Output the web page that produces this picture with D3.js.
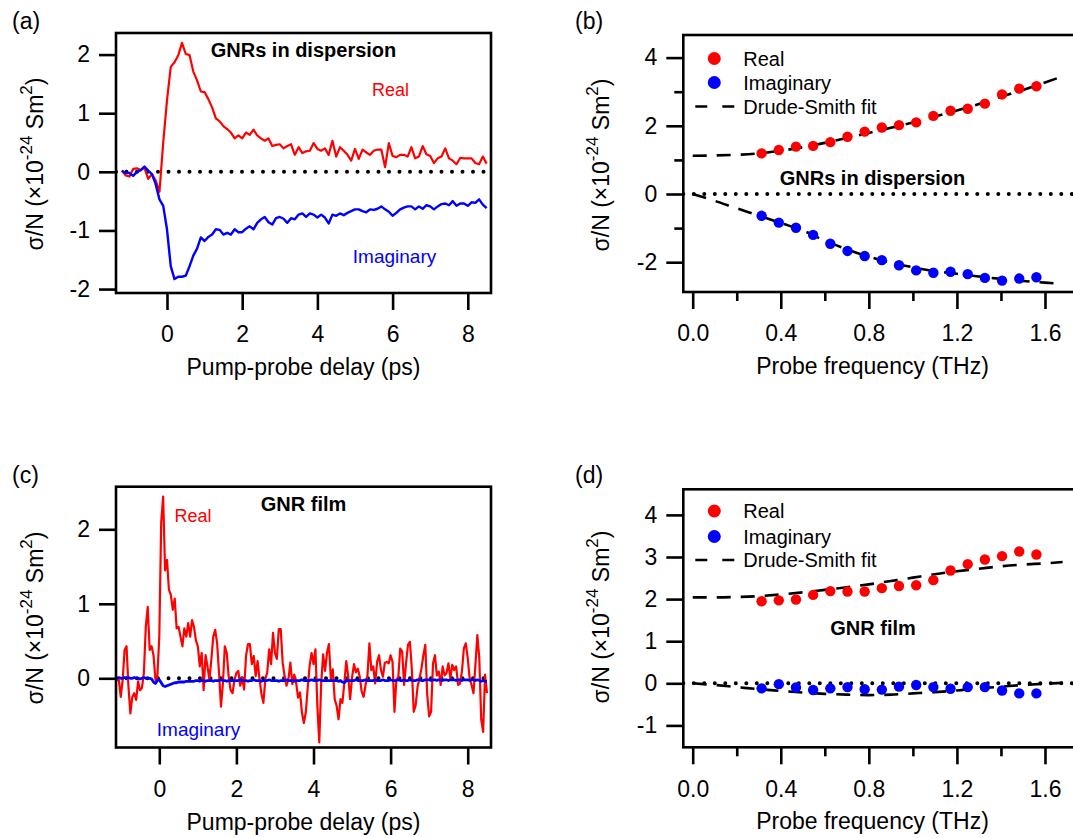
<!DOCTYPE html>
<html><head><meta charset="utf-8">
<script src="https://cdn.jsdelivr.net/npm/d3@7"></script>
<style>
body{margin:0;background:#fff}
svg{display:block}
text{font-family:"Liberation Sans",Arial,Helvetica,sans-serif;fill:#000}
</style>
</head><body>
<svg id="chart" width="1073" height="838"></svg>
<script>
// ---------- DATA ----------
// Panel (a): GNRs in dispersion, pump-probe delay (ps)
const delayA = [-1.2,-1.1,-1.0,-0.9,-0.8,-0.7,-0.6,-0.5,-0.4,-0.3,-0.2,-0.1,
 0.0,0.1,0.2,0.3,0.4,0.5,0.6,0.7,0.8,0.9,1.0,1.1,1.2,1.3,1.4,1.5,1.6,1.7,1.8,1.9,
 2.0,2.1,2.2,2.3,2.4,2.5,2.6,2.7,2.8,2.9,3.0,3.1,3.2,3.3,3.4,3.5,3.6,3.7,3.8,3.9,
 4.0,4.1,4.2,4.3,4.4,4.5,4.6,4.7,4.8,4.9,5.0,5.1,5.2,5.3,5.4,5.5,5.6,5.7,5.8,5.9,
 6.0,6.1,6.2,6.3,6.4,6.5,6.6,6.7,6.8,6.9,7.0,7.1,7.2,7.3,7.4,7.5,7.6,7.7,7.8,7.9,
 8.0,8.1,8.2,8.3,8.4,8.5];
const realA = [0.02,-0.06,-0.08,0.05,0.06,0.03,0.07,-0.12,-0.04,-0.15,-0.34,0.50,
 1.22,1.79,1.87,1.99,2.20,2.01,1.99,1.71,1.56,1.37,1.36,1.24,1.10,0.91,0.86,0.78,0.73,0.67,0.57,0.62,
 0.57,0.67,0.63,0.72,0.62,0.57,0.53,0.57,0.44,0.46,0.47,0.40,0.44,0.47,0.29,0.42,0.32,0.35,0.36,0.49,
 0.39,0.36,0.40,0.29,0.53,0.26,0.42,0.36,0.29,0.19,0.39,0.22,0.38,0.33,0.29,0.36,0.38,0.38,0.08,0.49,
 0.27,0.25,0.29,0.29,0.26,0.42,0.23,0.26,0.44,0.30,0.27,0.15,0.23,0.26,0.40,0.23,0.19,0.13,0.24,0.23,
 0.23,0.23,0.15,0.13,0.26,0.14];
const imagA = [0.02,-0.02,-0.02,-0.07,0.00,0.03,0.09,0.02,-0.04,-0.21,-0.47,-0.58,
 -0.98,-1.61,-1.83,-1.79,-1.79,-1.77,-1.61,-1.43,-1.31,-1.12,-1.18,-1.11,-1.07,-0.98,-0.99,-1.07,-1.04,-1.07,-0.98,-1.03,
 -1.03,-0.97,-0.93,-0.98,-0.87,-0.81,-0.77,-0.86,-0.90,-0.79,-0.77,-0.80,-0.87,-0.79,-0.81,-0.73,-0.71,-0.77,-0.71,-0.73,
 -0.78,-0.73,-0.78,-0.88,-0.73,-0.75,-0.71,-0.74,-0.70,-0.67,-0.64,-0.64,-0.67,-0.69,-0.64,-0.65,-0.63,-0.59,-0.64,-0.68,
 -0.75,-0.70,-0.64,-0.61,-0.59,-0.59,-0.64,-0.59,-0.63,-0.57,-0.59,-0.64,-0.59,-0.55,-0.54,-0.57,-0.50,-0.58,-0.54,-0.54,
 -0.58,-0.52,-0.53,-0.47,-0.56,-0.62];

// Panel (c): GNR film, pump-probe delay (ps)
const delayC = [-1.10,-1.05,-1.00,-0.95,-0.90,-0.85,-0.80,-0.75,-0.70,-0.65,-0.60,-0.55,-0.50,-0.45,-0.40,-0.35,-0.30,-0.25,-0.20,-0.15,-0.10,-0.05,
 0.00,0.05,0.10,0.15,0.20,0.25,0.30,0.35,0.40,0.45,0.50,0.55,0.60,0.65,0.70,0.75,0.80,0.85,0.90,0.95,
 1.00,1.05,1.10,1.15,1.20,1.25,1.30,1.35,1.40,1.45,1.50,1.55,1.60,1.65,1.70,1.75,1.80,1.85,1.90,1.95,
 2.00,2.05,2.10,2.15,2.20,2.25,2.30,2.35,2.40,2.45,2.50,2.55,2.60,2.65,2.70,2.75,2.80,2.85,2.90,2.95,
 3.00,3.05,3.10,3.15,3.20,3.25,3.30,3.35,3.40,3.45,3.50,3.55,3.60,3.65,3.70,3.75,3.80,3.85,3.90,3.95,
 4.00,4.05,4.10,4.15,4.20,4.25,4.30,4.35,4.40,4.45,4.50,4.55,4.60,4.65,4.70,4.75,4.80,4.85,4.90,4.95,
 5.00,5.05,5.10,5.15,5.20,5.25,5.30,5.35,5.40,5.45,5.50,5.55,5.60,5.65,5.70,5.75,5.80,5.85,5.90,5.95,
 6.00,6.05,6.10,6.15,6.20,6.25,6.30,6.35,6.40,6.45,6.50,6.55,6.60,6.65,6.70,6.75,6.80,6.85,6.90,6.95,
 7.00,7.05,7.10,7.15,7.20,7.25,7.30,7.35,7.40,7.45,7.50,7.55,7.60,7.65,7.70,7.75,7.80,7.85,7.90,7.95,
 8.00,8.05,8.10,8.15,8.20,8.25,8.30,8.35,8.40,8.45,8.50];
const realC = [-0.02,-0.02,-0.25,-0.02,0.38,0.43,-0.11,-0.47,-0.25,-0.20,-0.29,-0.04,-0.16,-0.13,0.07,0.69,0.96,0.38,0.43,0.31,-0.02,0.02,
 0.56,2.10,2.44,1.45,1.59,1.19,1.12,0.92,1.07,0.67,0.69,0.56,0.43,0.67,0.56,0.74,0.56,0.78,0.69,0.51,
 0.43,0.16,0.34,-0.16,0.31,0.16,-0.02,0.25,0.56,0.65,0.47,0.07,-0.38,-0.07,0.43,0.34,0.02,-0.16,-0.20,-0.02,
 0.07,0.10,-0.10,0.01,-0.15,0.30,0.46,0.46,0.19,0.30,0.03,0.23,-0.01,-0.21,-0.33,-0.01,0.08,0.39,0.19,0.61,
 0.34,0.26,0.66,0.66,0.21,0.03,-0.10,-0.01,0.21,-0.08,0.05,-0.06,-0.26,-0.19,-0.46,-0.60,-0.46,-0.13,0.17,0.34,
 0.19,0.39,-0.37,-0.86,-0.06,0.32,0.10,0.34,0.46,-0.01,0.12,-0.28,-0.37,-0.55,-0.28,-0.33,-0.06,0.23,0.03,-0.28,
 0.01,0.19,0.08,0.13,0.02,-0.18,-0.25,-0.09,0.04,0.47,0.11,0.16,-0.07,0.22,0.31,0.11,0.02,0.21,0.22,0.20,
 0.31,0.22,-0.45,-0.02,0.02,0.40,0.36,-0.09,0.20,0.45,0.49,0.13,-0.45,-0.36,-0.11,0.00,0.13,0.31,0.45,-0.22,
 -0.51,-0.45,0.20,0.31,0.04,0.09,-0.09,0.16,0.04,0.07,0.20,0.00,0.18,0.11,0.16,-0.09,-0.07,0.09,0.40,0.47,
 0.27,0.00,-0.09,-0.20,0.18,0.58,0.27,-0.55,-0.72,0.05,-0.20];
const imagC = [0.00,0.01,0.00,0.00,0.01,0.00,0.01,0.00,0.00,0.01,0.00,0.00,-0.01,0.00,0.01,0.00,0.00,0.00,-0.01,-0.05,-0.07,-0.03,
 -0.02,-0.06,-0.10,-0.11,-0.10,-0.09,-0.08,-0.07,-0.06,-0.06,-0.05,-0.05,-0.05,-0.05,-0.04,-0.04,-0.04,-0.04,-0.04,-0.03,
 -0.03,-0.04,-0.03,-0.03,-0.04,-0.03,-0.03,-0.03,-0.04,-0.03,-0.03,-0.03,-0.02,-0.03,-0.03,-0.04,-0.03,-0.03,-0.03,-0.03,
 -0.03,-0.03,-0.02,-0.03,-0.03,-0.03,-0.04,-0.03,-0.03,-0.02,-0.03,-0.03,-0.03,-0.04,-0.03,-0.03,-0.03,-0.02,-0.03,-0.03,
 -0.03,-0.03,-0.04,-0.03,-0.03,-0.03,-0.02,-0.03,-0.03,-0.03,-0.04,-0.03,-0.03,-0.03,-0.02,-0.03,-0.03,-0.03,-0.03,-0.02,
 -0.03,-0.03,-0.03,-0.02,-0.03,-0.03,-0.03,-0.03,-0.03,-0.03,-0.03,-0.03,-0.03,-0.04,-0.03,-0.05,-0.06,-0.03,-0.03,-0.03,
 -0.03,-0.03,-0.02,-0.03,-0.03,-0.03,-0.03,-0.02,-0.03,-0.03,-0.03,-0.03,-0.02,-0.03,-0.03,-0.03,-0.02,-0.03,-0.03,-0.03,
 -0.02,-0.03,-0.03,-0.03,-0.02,-0.03,-0.03,-0.02,-0.03,-0.03,-0.02,-0.03,-0.03,-0.03,-0.02,-0.02,-0.03,-0.03,-0.02,-0.02,
 -0.02,-0.03,-0.02,-0.02,-0.03,-0.02,-0.02,-0.03,-0.02,-0.02,-0.03,-0.02,-0.02,-0.02,-0.03,-0.02,-0.02,-0.03,-0.02,-0.02,
 -0.02,-0.03,-0.02,-0.02,-0.03,-0.02,-0.03,-0.04,-0.03,-0.04,-0.04];

// Panels (b) and (d): probe frequency (THz)
const freq = [0.313,0.391,0.469,0.547,0.625,0.703,0.781,0.859,0.937,1.015,1.093,1.171,1.249,1.327,1.405,1.483,1.561];
const realB = [1.19,1.29,1.39,1.41,1.52,1.68,1.83,1.95,2.02,2.10,2.29,2.44,2.50,2.65,2.92,3.09,3.16];
const imagB = [-0.64,-0.84,-0.99,-1.20,-1.46,-1.67,-1.82,-1.94,-2.09,-2.24,-2.31,-2.28,-2.35,-2.46,-2.54,-2.48,-2.44];
const realD = [1.95,1.97,1.99,2.10,2.19,2.18,2.18,2.26,2.31,2.33,2.45,2.68,2.83,2.94,3.02,3.13,3.06];
const imagD = [-0.12,-0.02,-0.10,-0.16,-0.12,-0.09,-0.14,-0.15,-0.08,-0.04,-0.09,-0.13,-0.09,-0.09,-0.17,-0.24,-0.24];
// Drude-Smith fits
const fitFreq = [0,0.1,0.2,0.3,0.4,0.5,0.6,0.7,0.8,0.9,1.0,1.1,1.2,1.3,1.4,1.5,1.6,1.68];
const fitRealB = [1.12,1.13,1.15,1.19,1.27,1.37,1.50,1.64,1.79,1.94,2.10,2.27,2.45,2.64,2.85,3.05,3.27,3.45];
const fitImagB = [0,-0.20,-0.42,-0.63,-0.85,-1.07,-1.37,-1.62,-1.84,-2.01,-2.15,-2.26,-2.34,-2.42,-2.49,-2.55,-2.60,-2.63];
const fitRealD = [2.04,2.04,2.05,2.07,2.11,2.16,2.22,2.28,2.35,2.43,2.51,2.59,2.66,2.72,2.78,2.82,2.85,2.88];
const fitImagD = [0,-0.04,-0.09,-0.14,-0.18,-0.22,-0.25,-0.27,-0.28,-0.27,-0.24,-0.21,-0.17,-0.12,-0.08,-0.04,-0.01,0.01];

// ticks
const delayTicks = [0,2,4,6,8];
const freqTicks = [0,0.4,0.8,1.2,1.6];
const freqMinor = [0.2,0.6,1.0,1.4];
const yTicksA = [-2,-1,0,1,2];
const yTicksB = [-2,0,2,4];
const yMinorB = [-1,1,3];
const yTicksC = [0,1,2];
const yTicksD = [-1,0,1,2,3,4];

// ---------- DRAWING ----------
const svg = d3.select("#chart");
const RED = "#ff0000", BLUE = "#0000ff";
let clipId = 0;

function panel(o){
  const g = svg.append("g");
  const x = d3.scaleLinear().domain(o.xDom).range([o.l, o.r]);
  const y = d3.scaleLinear().domain(o.yDom).range([o.b, o.t]);
  const id = "clip" + (clipId++);
  g.append("clipPath").attr("id", id).append("rect")
    .attr("x", o.l).attr("y", o.t).attr("width", o.r - o.l).attr("height", o.b - o.t);
  const fmt = o.xFmt || (d => String(d));
  g.append("g").attr("transform", `translate(0,${o.b})`)
    .call(d3.axisBottom(x).tickValues(o.xTicks).tickSize(17).tickPadding(16).tickFormat(fmt));
  if (o.xMinor) g.append("g").attr("transform", `translate(0,${o.b})`)
    .call(d3.axisBottom(x).tickValues(o.xMinor).tickSize(9).tickFormat(""));
  g.append("g").attr("transform", `translate(${o.l},0)`)
    .call(d3.axisLeft(y).tickValues(o.yTicks).tickSize(17).tickPadding(9).tickFormat(d => String(d)));
  if (o.yMinor) g.append("g").attr("transform", `translate(${o.l},0)`)
    .call(d3.axisLeft(y).tickValues(o.yMinor).tickSize(9).tickFormat(""));
  g.selectAll(".domain").remove();
  g.selectAll(".tick line").attr("stroke", "#000").attr("stroke-width", 2.6);
  g.selectAll(".tick text").attr("font-size", 23).attr("fill", "#000")
    .attr("font-family", '"Liberation Sans",Arial,sans-serif');
  const plot = g.append("g").attr("clip-path", `url(#${id})`);
  plot.append("line").attr("x1", o.l).attr("x2", o.r).attr("y1", y(0)).attr("y2", y(0))
    .attr("stroke", "#000").attr("stroke-width", 4).attr("stroke-linecap", "round")
    .attr("stroke-dasharray", "0,10.5");
  g.append("rect").attr("x", o.l).attr("y", o.t).attr("width", o.r - o.l).attr("height", o.b - o.t)
    .attr("fill", "none").attr("stroke", "#000").attr("stroke-width", 2.6);
  const yt = g.append("text").attr("transform", `translate(${o.ytx},${o.yty}) rotate(-90)`)
    .attr("text-anchor", "middle").attr("font-size", 23);
  yt.append("tspan").text("σ/N (×10");
  yt.append("tspan").attr("dy", -11).attr("font-size", 17).text("-24");
  yt.append("tspan").attr("dy", 11).text(" Sm");
  yt.append("tspan").attr("dy", -11).attr("font-size", 17).text("2");
  yt.append("tspan").attr("dy", 11).text(")");
  g.append("text").attr("x", o.xtx).attr("y", o.b + 82).attr("text-anchor", "middle")
    .attr("font-size", 23).text(o.xTitle);
  g.append("text").attr("x", o.lx).attr("y", o.ly).attr("font-size", 23).text(o.label);
  return {g, plot, x, y};
}

function trace(p, xs, ys, color, w){
  const line = d3.line().x((d, i) => p.x(xs[i])).y(d => p.y(d));
  p.plot.append("path").datum(ys).attr("d", line).attr("fill", "none")
    .attr("stroke", color).attr("stroke-width", w).attr("stroke-linejoin", "round");
}
function fit(p, ys){
  const line = d3.line().x((d, i) => p.x(fitFreq[i])).y(d => p.y(d)).curve(d3.curveMonotoneX);
  p.plot.append("path").datum(ys).attr("d", line).attr("fill", "none")
    .attr("stroke", "#000").attr("stroke-width", 2.6).attr("stroke-dasharray", "14,10");
}
function dots(p, ys, color){
  p.plot.selectAll(null).data(ys).enter().append("circle")
    .attr("cx", (d, i) => p.x(freq[i])).attr("cy", d => p.y(d)).attr("r", 5.2).attr("fill", color);
}
function txt(g, x, y, s, opt){
  const t = g.append("text").attr("x", x).attr("y", y).attr("font-size", opt.size || 20).text(s);
  if (opt.anchor) t.attr("text-anchor", opt.anchor);
  if (opt.bold) t.attr("font-weight", "bold");
  if (opt.color) t.style("fill", opt.color);
  return t;
}
function legend(g, x0, yR, yI, yF){
  g.append("circle").attr("cx", x0).attr("cy", yR).attr("r", 6.5).attr("fill", RED);
  g.append("circle").attr("cx", x0).attr("cy", yI).attr("r", 6.5).attr("fill", BLUE);
  g.append("line").attr("x1", x0 - 19).attr("x2", x0 + 21).attr("y1", yF).attr("y2", yF)
    .attr("stroke", "#000").attr("stroke-width", 2.6).attr("stroke-dasharray", "12,15");
  txt(g, x0 + 29, yR + 7, "Real", {size: 20});
  txt(g, x0 + 29, yI + 7, "Imaginary", {size: 20});
  txt(g, x0 + 29, yF + 7, "Drude-Smith fit", {size: 20});
}

// (a)
const pA = panel({l:116, r:491, t:33, b:293, xDom:[-1.356, 8.617], yDom:[-2.067, 2.368],
  xTicks: delayTicks, yTicks: yTicksA, ytx:43, yty:164, xtx:303.5, xTitle:"Pump-probe delay (ps)",
  lx:12, ly:29, label:"(a)"});
trace(pA, delayA, realA, RED, 2.2);
trace(pA, delayA, imagA, BLUE, 2.4);
txt(pA.g, 303.5, 57, "GNRs in dispersion", {size:20, bold:true, anchor:"middle"});
txt(pA.g, 390.5, 96, "Real", {size:18, anchor:"middle", color:RED});
txt(pA.g, 394.5, 263, "Imaginary", {size:19, anchor:"middle", color:BLUE});

// (b)
const pB = panel({l:683.3, r:1080, t:35, b:292, xDom:[-0.0427, 1.759], yDom:[-2.874, 4.663],
  xTicks: freqTicks, xMinor: freqMinor, yTicks: yTicksB, yMinor: yMinorB, xFmt: d => d.toFixed(1),
  ytx:609, yty:165, xtx:872.5, xTitle:"Probe frequency (THz)", lx:575, ly:29, label:"(b)"});
fit(pB, fitRealB);
fit(pB, fitImagB);
dots(pB, realB, RED);
dots(pB, imagB, BLUE);
legend(pB.g, 714.3, 58.5, 82.5, 106.5);
txt(pB.g, 872.5, 185, "GNRs in dispersion", {size:20, bold:true, anchor:"middle"});

// (c)
const pC = panel({l:116, r:491, t:486.7, b:747.5, xDom:[-1.123, 8.604], yDom:[-0.929, 2.572],
  xTicks: delayTicks, yTicks: yTicksC, ytx:43, yty:618, xtx:303.5, xTitle:"Pump-probe delay (ps)",
  lx:12, ly:483, label:"(c)"});
trace(pC, delayC, realC, RED, 2.2);
trace(pC, delayC, imagC, BLUE, 2.8);
txt(pC.g, 303.5, 511, "GNR film", {size:20, bold:true, anchor:"middle"});
txt(pC.g, 193, 522, "Real", {size:18, anchor:"middle", color:RED});
txt(pC.g, 198.5, 736, "Imaginary", {size:19, anchor:"middle", color:BLUE});

// (d)
const pD = panel({l:683.3, r:1080, t:489.3, b:747.3, xDom:[-0.0427, 1.759], yDom:[-1.520, 4.608],
  xTicks: freqTicks, xMinor: freqMinor, yTicks: yTicksD, xFmt: d => d.toFixed(1),
  ytx:609, yty:617, xtx:872.5, xTitle:"Probe frequency (THz)", lx:575, ly:483, label:"(d)"});
fit(pD, fitRealD);
fit(pD, fitImagD);
dots(pD, realD, RED);
dots(pD, imagD, BLUE);
legend(pD.g, 714.3, 511, 536.5, 560);
txt(pD.g, 873, 635, "GNR film", {size:20, bold:true, anchor:"middle"});
</script>
</body></html>
